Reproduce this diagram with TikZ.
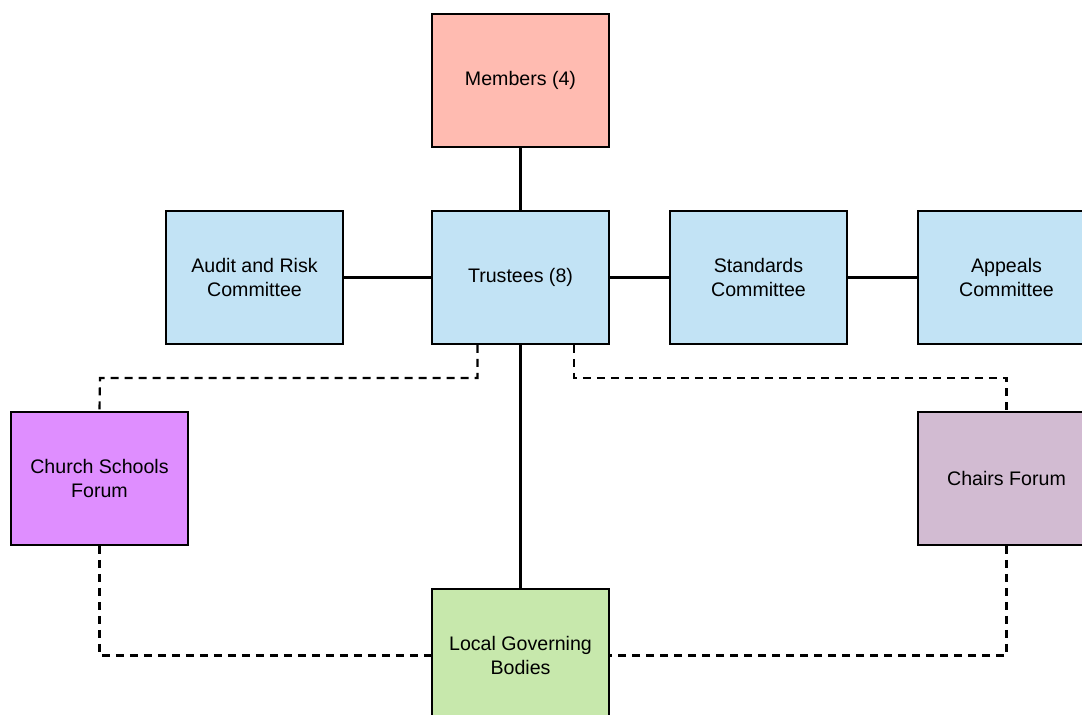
\documentclass[tikz,border=0pt]{standalone}
\usepackage{fontspec}
\setmainfont{Liberation Sans}
\usetikzlibrary{calc}

\definecolor{memfill}{RGB}{255,187,177}
\definecolor{bluefill}{RGB}{194,227,245}
\definecolor{churchfill}{RGB}{223,142,255}
\definecolor{chairfill}{RGB}{210,187,210}
\definecolor{lgbfill}{RGB}{199,232,172}

\tikzset{
  box/.style={draw, line width=0.9pt, minimum width=88.5pt, minimum height=66.5pt,
    align=center, font=\fontsize{9.8}{12}\selectfont, inner sep=0pt},
  link/.style={line width=1.1pt},
  dlink/.style={line width=1.1pt, dash pattern=on 4pt off 3pt}
}

\begin{document}
\begin{tikzpicture}[x=0.5pt, y=-0.5pt]
    \useasboundingbox (0,0) rectangle (1082,715);
    \clip (0,0) rectangle (1082,715);

    \node[box, fill=memfill] (members) at (520.5,80.5) {Members (4)};
    \node[box, fill=bluefill] (trustees) at (520.5,277.5) {Trustees (8)};
    \node[box, fill=bluefill] (audit) at (254.5,277.5) {Audit and Risk\\Committee};
    \node[box, fill=bluefill] (standards) at (758.5,277.5) {Standards\\Committee};
    \node[box, fill=bluefill] (appeals) at (1006.5,277.5) {Appeals\\Committee};
    \node[box, fill=churchfill] (church) at (99.5,478.5) {Church Schools\\Forum};
    \node[box, fill=chairfill] (chairs) at (1006.5,478.5) {Chairs Forum};
    \node[box, fill=lgbfill] (lgb) at (520.5,655.5) {Local Governing\\Bodies};

    % solid links
    \draw[link] (members) -- (trustees);
    \draw[link] (audit) -- (trustees);
    \draw[link] (trustees) -- (standards);
    \draw[link] (standards) -- (appeals);
    \draw[link] (trustees) -- (lgb);

    % dashed links
    \draw[dlink] (trustees.south -| 477.5,0) |- (100,378) -- (church.north);
    \draw[dlink] (trustees.south -| 574,0) |- (1006.5,378) -- (chairs.north);
    \draw[dlink] (church.south) |- (lgb.west);
    \draw[dlink] (chairs.south) |- (lgb.east);
\end{tikzpicture}
\end{document}
